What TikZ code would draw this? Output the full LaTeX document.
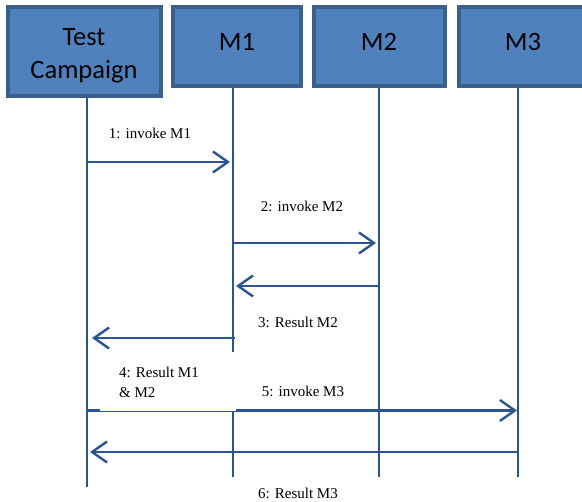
\documentclass[tikz,border=0pt]{standalone}
\usepackage{fontspec}
\setmainfont{Liberation Serif}
\newfontfamily\boxfont{Carlito}
\usetikzlibrary{arrows.meta}
\definecolor{boxfill}{HTML}{4F81BD}
\definecolor{boxline}{HTML}{3A5F8B}
\definecolor{arrowcol}{HTML}{2B5591}
\tikzset{
  actor/.style={draw=boxline, fill=boxfill, line width=4pt, inner sep=0pt},
  actortext/.style={font=\boxfont\fontsize{26.5}{33}\selectfont, align=center, text=black, inner sep=0pt},
  lifeline/.style={draw=arrowcol, line width=2pt},
  msg/.style={draw=arrowcol, line width=2.4pt, -{Straight Barb[length=15pt,width=21pt,line width=2.4pt]}},
  msglabel/.style={font=\fontsize{15}{20}\selectfont, inner sep=0pt, text=black},
}
\begin{document}
\begin{tikzpicture}[x=1pt,y=-1pt]
\useasboundingbox (0,0) rectangle (582,502);
\fill[white] (0,0) rectangle (582,502);
% actors
\node[actor, minimum width=153.4pt, minimum height=89pt] (tc) at (84.3,51.5) {};
\node[actor, minimum width=128.2pt, minimum height=79pt] (m1) at (236.7,46.5) {};
\node[actor, minimum width=131pt, minimum height=79pt] (m2) at (379.5,46.5) {};
\node[actor, minimum width=131pt, minimum height=79pt] (m3) at (524.5,46.5) {};
\node[actortext] (tct) at (84,56) {Test\\Campaign};
\node[actortext] (m1t) at (237,42) {M1};
\node[actortext] (m2t) at (379,42) {M2};
\node[actortext] (m3t) at (523,42) {M3};
% lifeline points
\coordinate (tcTop) at (87,98);  \coordinate (tcEnd) at (87,487);
\coordinate (m1Top) at (233,88); \coordinate (m1End) at (233,477);
\coordinate (m2Top) at (379,88); \coordinate (m2End) at (379,477);
\coordinate (m3Top) at (518,88); \coordinate (m3End) at (518,477);
\draw[lifeline] (tcTop) -- (tcEnd);
\draw[lifeline] (m1Top) -- (m1End);
\draw[lifeline] (m2Top) -- (m2End);
\draw[lifeline] (m3Top) -- (m3End);
% message anchors
\coordinate (a1s) at (86,162);  \coordinate (a1e) at (230,162);
\coordinate (a2s) at (233,243); \coordinate (a2e) at (376,243);
\coordinate (a3s) at (379,286); \coordinate (a3e) at (236,286);
\coordinate (a4s) at (235,338); \coordinate (a4e) at (92,338);
\coordinate (a5s) at (87,410.5); \coordinate (a5e) at (517,410.5);
\coordinate (a6s) at (518,452); \coordinate (a6e) at (90,452);
\draw[msg] (a1s) -- (a1e);
\draw[msg] (a2s) -- (a2e);
\draw[msg] (a3s) -- (a3e);
\draw[msg] (a4s) -- (a4e);
\draw[msg] (a5s) -- (a5e);
\draw[msg] (a6s) -- (a6e);
% white label area of message 4
\fill[white] (100,352) rectangle (236,410.9);
% labels
\node[msglabel] (l1) at (150,133) {1: invoke M1};
\node[msglabel] (l2) at (302,206) {2: invoke M2};
\node[msglabel] (l3) at (298,322) {3: Result M2};
\node[msglabel, anchor=west, align=left] (l4) at (119,382) {4: Result M1\\\& M2};
\node[msglabel] (l5) at (303,391) {5: invoke M3};
\node[msglabel] (l6) at (298,493) {6: Result M3};
\end{tikzpicture}
\end{document}
